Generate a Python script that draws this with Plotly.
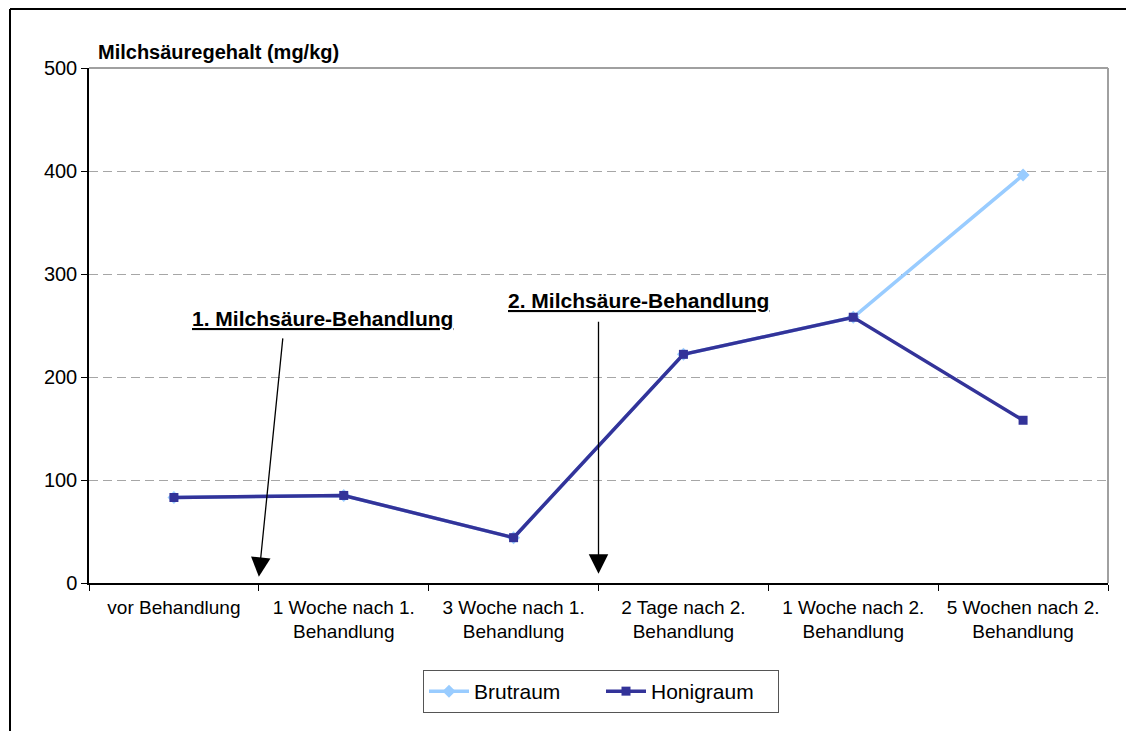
import plotly.graph_objects as go

categories = [
    "vor Behandlung",
    "1 Woche nach 1.<br>Behandlung",
    "3 Woche nach 1.<br>Behandlung",
    "2 Tage nach 2.<br>Behandlung",
    "1 Woche nach 2.<br>Behandlung",
    "5 Wochen nach 2.<br>Behandlung",
]
brutraum = [83, 85, 44, 222, 258, 396]
honigraum = [83, 85, 44, 222, 258, 158]

y_ticks = [0, 100, 200, 300, 400, 500]

FONT = "Liberation Sans, Arial, sans-serif"

# figure geometry (page has an 8px body margin)
W, H = 1126, 723
L, T, PW, PH = 81, 60, 1019, 515
R = W - L - PW
B = H - T - PH


def px(x):
    return (x - 8 - L) / PW


def py(y):
    return (T + PH - (y - 8)) / PH


fig = go.Figure()
fig.add_trace(go.Scatter(
    x=categories, y=brutraum, name="Brutraum", mode="lines+markers",
    line=dict(color="#99CCFF", width=3.5),
    marker=dict(symbol="diamond", size=10, color="#99CCFF"),
))
fig.add_trace(go.Scatter(
    x=categories, y=honigraum, name="Honigraum", mode="lines+markers",
    line=dict(color="#333399", width=3.5),
    marker=dict(symbol="square", size=9, color="#333399"),
))

fig.update_layout(
    width=W, height=H,
    margin=dict(l=L, r=R, t=T, b=B),
    paper_bgcolor="white", plot_bgcolor="white",
    font=dict(family=FONT, color="black", size=19),
    showlegend=True,
    legend=dict(
        orientation="h", x=px(601), xanchor="center", y=py(670), yanchor="top",
        bordercolor="#555555", borderwidth=1, font=dict(size=21, family=FONT),
        itemwidth=40, entrywidth=122, entrywidthmode="pixels",
    ),
    xaxis=dict(
        type="category", range=[-0.5, 5.5],
        showline=True, linecolor="black", linewidth=1.5,
        ticks="outside", tickson="boundaries", ticklen=6, tickcolor="black",
        showgrid=False, tickfont=dict(size=19, family=FONT), ticklabelstandoff=6,
    ),
    yaxis=dict(
        range=[0, 500], tickvals=y_ticks,
        showline=True, linecolor="black", linewidth=1.5,
        ticks="outside", ticklen=6, tickcolor="black",
        showgrid=True, gridcolor="#A6A6A6", griddash="9px,5px", gridwidth=1,
        zeroline=False, tickfont=dict(size=20, family=FONT),
    ),
)

# plot-area frame (top and right in grey)
fig.add_shape(type="line", xref="paper", yref="paper", x0=0, x1=1, y0=1, y1=1,
              line=dict(color="#A0A0A0", width=2))
fig.add_shape(type="line", xref="paper", yref="paper", x0=1, x1=1, y0=0, y1=1,
              line=dict(color="#A0A0A0", width=2))

# outer chart frame (top and left)
fig.add_shape(type="line", xref="paper", yref="paper",
              x0=px(10), x1=px(1140), y0=py(9), y1=py(9),
              line=dict(color="black", width=2))
fig.add_shape(type="line", xref="paper", yref="paper",
              x0=px(10), x1=px(10), y0=py(9), y1=py(740),
              line=dict(color="black", width=2))

# y axis title
fig.add_annotation(text="<b>Milchsäuregehalt (mg/kg)</b>", xref="paper", yref="paper",
                   x=px(96), y=py(52), xanchor="left", yanchor="middle",
                   showarrow=False, font=dict(size=20, family=FONT))

# treatment labels
fig.add_annotation(text="<b><u>1. Milchsäure-Behandlung</u></b>", x=0.877, y=257,
                   xref="x", yref="y", showarrow=False, font=dict(size=21, family=FONT))
fig.add_annotation(text="<b><u>2. Milchsäure-Behandlung</u></b>", x=2.733, y=274,
                   xref="x", yref="y", showarrow=False, font=dict(size=21, family=FONT))

# arrows
fig.add_annotation(x=0.5, y=6, ax=0.642, ay=239, xref="x", yref="y", axref="x", ayref="y",
                   text="", showarrow=True, arrowhead=2, arrowsize=3, arrowwidth=1.3,
                   arrowcolor="black")
fig.add_annotation(x=2.5, y=9, ax=2.5, ay=255, xref="x", yref="y", axref="x", ayref="y",
                   text="", showarrow=True, arrowhead=2, arrowsize=3, arrowwidth=1.3,
                   arrowcolor="black")

fig.write_html("out.html")
